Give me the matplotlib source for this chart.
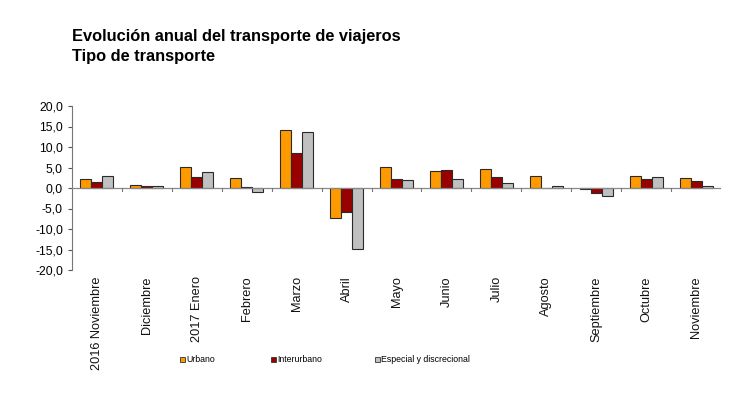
import matplotlib
matplotlib.use("Agg")
import matplotlib.pyplot as plt
import numpy as np
from matplotlib.ticker import FuncFormatter

categories = ["2016 Noviembre", "Diciembre", "2017 Enero", "Febrero", "Marzo", "Abril",
              "Mayo", "Junio", "Julio", "Agosto", "Septiembre", "Octubre", "Noviembre"]
urbano = [2.3, 0.8, 5.1, 2.5, 14.2, -7.3, 5.1, 4.2, 4.65, 3.0, -0.25, 3.0, 2.5]
interurbano = [1.55, 0.5, 2.7, 0.15, 8.6, -5.8, 2.3, 4.4, 2.7, -0.1, -1.1, 2.3, 1.6]
especial = [2.9, 0.6, 4.0, -1.0, 13.6, -14.8, 2.0, 2.3, 1.15, 0.4, -1.9, 2.6, 0.4]
series_names = ["Urbano", "Interurbano", "Especial y discrecional"]
colors = ["#FF9900", "#990000", "#C0C0C0"]

plt.rcParams['font.family'] = ['Liberation Sans', 'DejaVu Sans']

fig = plt.figure(figsize=(7.5, 3.95), dpi=100)
ax = fig.add_axes([72/750, 1-270/395, (721-72)/750, (270-106)/395])

x = np.arange(len(categories))
w = 0.22
for i, (vals, c) in enumerate(zip([urbano, interurbano, especial], colors)):
    ax.bar(x + (i-1)*w, vals, width=w, color=c, edgecolor="#2a2a2a", linewidth=0.8, zorder=3)

ax.set_xlim(-0.5, len(categories)-0.5)
ax.set_ylim(-20, 20)
ax.set_yticks(np.arange(-20, 20.1, 5))
ax.yaxis.set_major_formatter(FuncFormatter(lambda v, p: f"{v:.1f}".replace(".", ",")))
ax.tick_params(axis='y', labelsize=8.8, length=3, color="#555555", direction='out')

for s in ["top", "right", "bottom"]:
    ax.spines[s].set_visible(False)
ax.spines["left"].set_color("#777777")
ax.axhline(0, color="#888888", linewidth=0.9, zorder=4)
ax.set_xticks([])
for b in np.arange(0.5, len(categories), 1.0):
    ax.plot([b, b], [0, -0.8], color="#777777", linewidth=0.8, zorder=4)

for xi, lab in zip(x, categories):
    ax.text(xi, -21.5, lab, rotation=90, ha='center', va='top', fontsize=9.2, color="#111111")

fig.text(72/750, 1-37/395, "Evolución anual del transporte de viajeros", fontsize=11.8,
         fontweight='bold', va='center', ha='left')
fig.text(72/750, 1-57/395, "Tipo de transporte", fontsize=11.8,
         fontweight='bold', va='center', ha='left')

legend_x = [180, 271, 375]
for h_c, name, lx in zip(colors, series_names, legend_x):
    fig.patches.append(plt.Rectangle((lx/750, 1-362/395), 5/750, 5/395, transform=fig.transFigure,
                                     facecolor=h_c, edgecolor="#333333", linewidth=0.6))
    fig.text((lx+6)/750, 1-359.5/395, name, fontsize=6.3,
             family=['Liberation Sans Narrow', 'Liberation Sans', 'DejaVu Sans'],
             va='center', ha='left')

fig.savefig("out.png", dpi=100)
